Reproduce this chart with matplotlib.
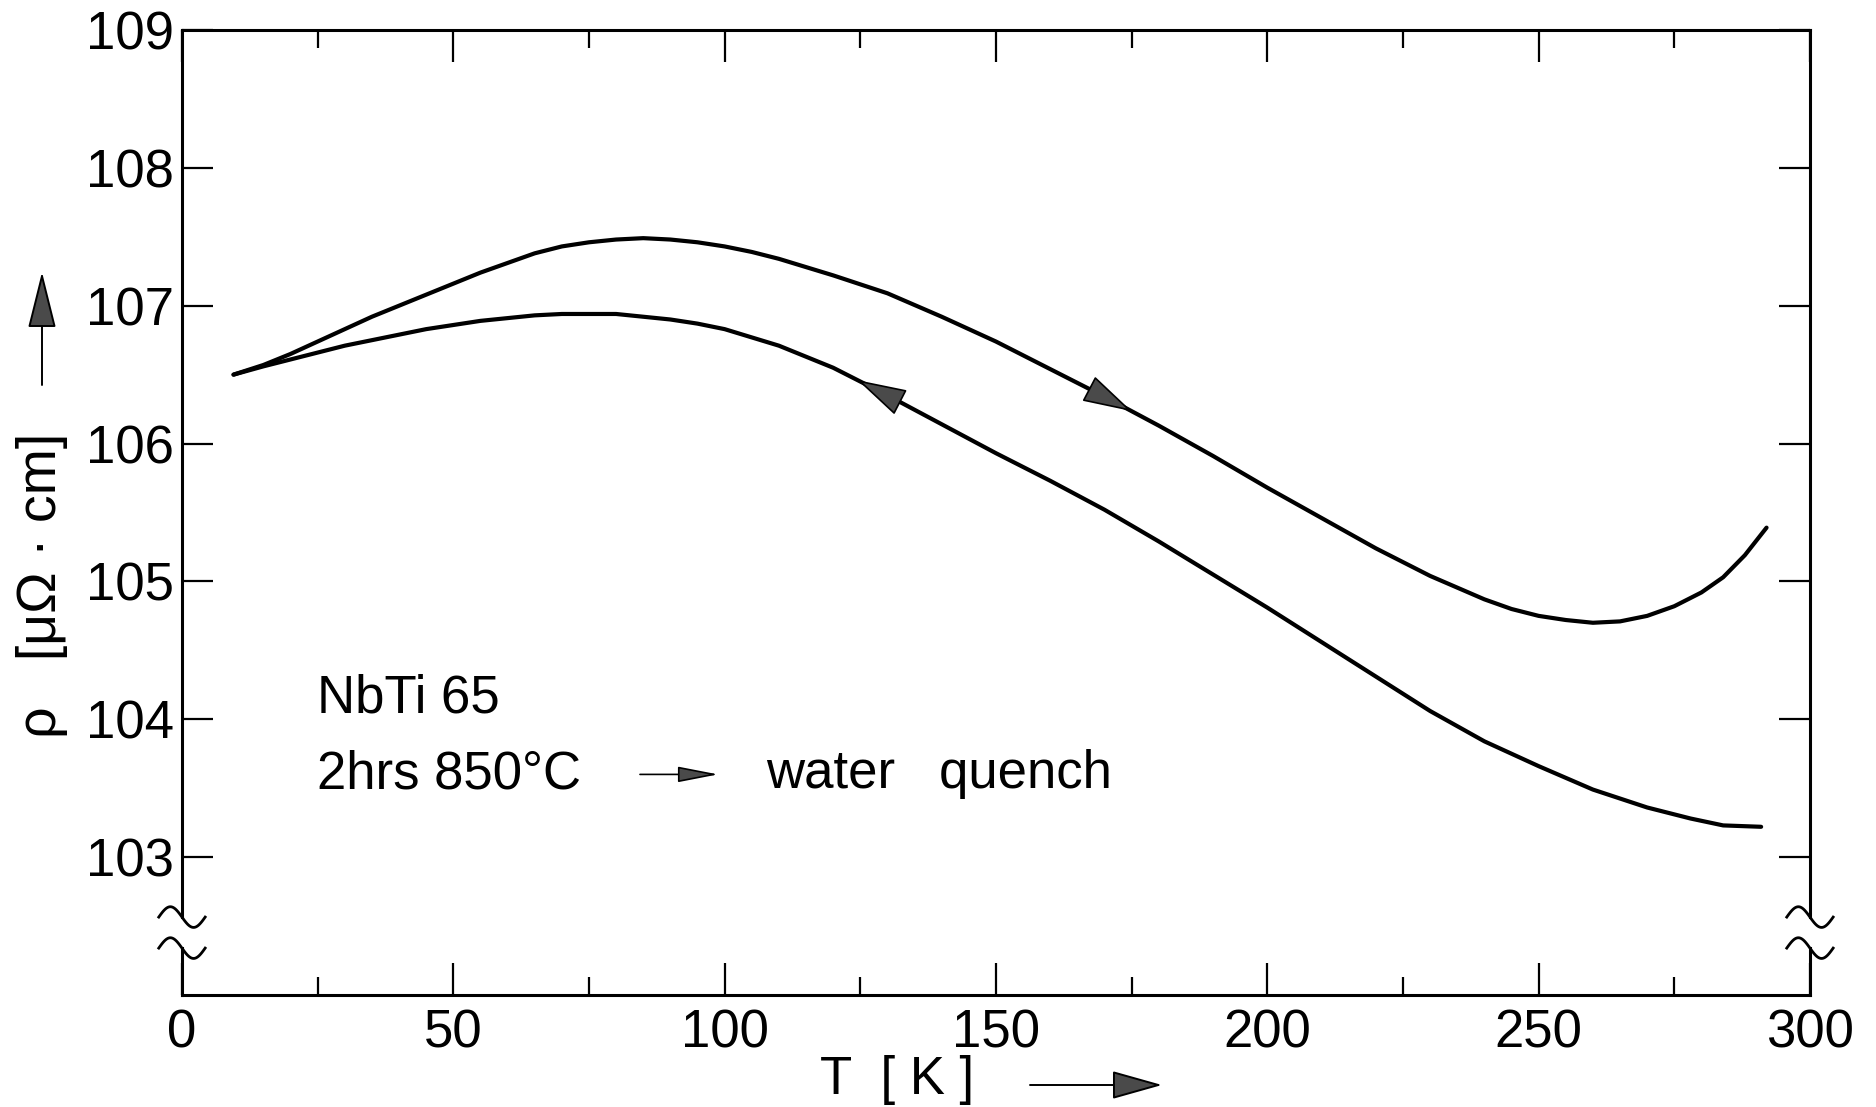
import numpy as np
import matplotlib
matplotlib.use("Agg")
import matplotlib.pyplot as plt
from matplotlib.ticker import MultipleLocator

plt.rcParams['font.family'] = ['Liberation Sans', 'DejaVu Sans']

# resistivity while warming up (upper branch)
T_heat = [9.5, 15, 20, 25, 30, 35, 40, 45, 50, 55, 60, 65, 70, 75, 80, 85,
          90, 95, 100, 105, 110, 120, 130, 140, 150, 160, 170, 180, 190, 200,
          210, 220, 230, 240, 245, 250, 255, 260, 265, 270, 275, 280, 284,
          288, 292]
rho_heat = [106.50, 106.57, 106.65, 106.74, 106.83, 106.92, 107.00, 107.08,
            107.16, 107.24, 107.31, 107.38, 107.43, 107.46, 107.48, 107.49,
            107.48, 107.46, 107.43, 107.39, 107.34, 107.22, 107.09, 106.92,
            106.74, 106.54, 106.34, 106.13, 105.91, 105.68, 105.46, 105.24,
            105.04, 104.87, 104.80, 104.75, 104.72, 104.70, 104.71, 104.75,
            104.82, 104.92, 105.03, 105.19, 105.39]

# resistivity while cooling down (lower branch)
T_cool = [9.5, 15, 20, 25, 30, 35, 40, 45, 50, 55, 60, 65, 70, 75, 80, 85,
          90, 95, 100, 105, 110, 115, 120, 125, 130, 140, 150, 160, 170, 180,
          190, 200, 210, 220, 230, 240, 250, 260, 270, 278, 284, 291]
rho_cool = [106.50, 106.56, 106.61, 106.66, 106.71, 106.75, 106.79, 106.83,
            106.86, 106.89, 106.91, 106.93, 106.94, 106.94, 106.94, 106.92,
            106.90, 106.87, 106.83, 106.77, 106.71, 106.63, 106.55, 106.45,
            106.35, 106.14, 105.93, 105.73, 105.52, 105.29, 105.05, 104.81,
            104.56, 104.31, 104.06, 103.84, 103.66, 103.49, 103.36, 103.28,
            103.23, 103.22]

x_ticks = [0, 50, 100, 150, 200, 250, 300]
y_ticks = [103, 104, 105, 106, 107, 108, 109]

fig = plt.figure(figsize=(18.76, 11.07), dpi=100)
ax = fig.add_axes([0.0970, 0.1012, 0.8678, 0.8717])

ax.plot(T_heat, rho_heat, color='black', lw=3.0, solid_capstyle='round',
        solid_joinstyle='round')
ax.plot(T_cool, rho_cool, color='black', lw=3.0, solid_capstyle='round',
        solid_joinstyle='round')


def curve_arrow(T, rho, t_tail, t_tip):
    tail = (t_tail, np.interp(t_tail, T, rho))
    tip = (t_tip, np.interp(t_tip, T, rho))
    ax.annotate('', xy=tip, xytext=tail,
                arrowprops=dict(arrowstyle='-|>,head_length=1.6,head_width=0.45',
                                mutation_scale=20, fc='#4a4a4a', ec='black',
                                lw=1.2, shrinkA=0, shrinkB=0))


curve_arrow(T_heat, rho_heat, 167.0, 175.0)
curve_arrow(T_cool, rho_cool, 132.5, 124.5)

ax.set_xlim(0, 300)
ax.set_ylim(102, 109)
ax.set_xticks(x_ticks)
ax.xaxis.set_minor_locator(MultipleLocator(25))
ax.set_yticks(y_ticks)
ax.tick_params(axis='both', which='both', direction='in', top=True, right=True,
               width=1.6, labelsize=38, color='black')
ax.tick_params(axis='x', which='major', length=23, pad=10)
ax.tick_params(axis='x', which='minor', length=13)
ax.tick_params(axis='y', which='major', length=22, pad=6)

for side in ['top', 'bottom']:
    ax.spines[side].set_linewidth(2.2)
for side in ['left', 'right']:
    ax.spines[side].set_visible(False)

# broken side axes with the wavy break marks
ytr = ax.get_yaxis_transform()
brk_hi, brk_lo = 102.565, 102.34
for xs in [0, 1]:
    ax.plot([xs, xs], [brk_hi, 109], color='black', lw=2.2, transform=ytr, clip_on=False)
    ax.plot([xs, xs], [102, brk_lo], color='black', lw=2.2, transform=ytr, clip_on=False)
    t = np.linspace(0, 1, 60)
    for yc in [brk_hi, brk_lo]:
        ax.plot(xs + (t - 0.5) * 0.0285, yc + 0.075 * np.sin(2 * np.pi * t),
                color='black', lw=2.0, transform=ytr, clip_on=False)

ax.text(24.9, 104.15, 'NbTi 65', fontsize=38, va='center', ha='left')
ax.text(24.9, 103.60, '2hrs 850°C', fontsize=38, va='center', ha='left')
ax.annotate('', xy=(98.8, 103.60), xytext=(84.4, 103.60),
            arrowprops=dict(arrowstyle='-|>,head_length=1.8,head_width=0.35',
                            mutation_scale=14, fc='#4a4a4a', ec='black', lw=1.2,
                            shrinkA=0, shrinkB=0))
ax.text(107.6, 103.60, 'water   quench', fontsize=38, va='center', ha='left')

# axis labels with their direction arrows
fig.text(897 / 1876, 1 - 1080 / 1107, 'T  [ K ]', fontsize=38, ha='center', va='center')
fig.add_artist(matplotlib.patches.FancyArrowPatch(
    (1030 / 1876, 1 - 1085 / 1107), (1162 / 1876, 1 - 1085 / 1107),
    transform=fig.transFigure, arrowstyle='-|>,head_length=1.6,head_width=0.45',
    mutation_scale=20, fc='#4a4a4a', ec='black', lw=1.4, shrinkA=0, shrinkB=0))

fig.text(42 / 1876, 1 - 585 / 1107, 'ρ   [μΩ · cm]', fontsize=40, rotation=90,
         ha='center', va='center')
fig.add_artist(matplotlib.patches.FancyArrowPatch(
    (42 / 1876, 1 - 385 / 1107), (42 / 1876, 1 - 272 / 1107),
    transform=fig.transFigure, arrowstyle='-|>,head_length=1.8,head_width=0.45',
    mutation_scale=20, fc='#4a4a4a', ec='black', lw=1.4, shrinkA=0, shrinkB=0))

fig.savefig('out.png', dpi=100)
